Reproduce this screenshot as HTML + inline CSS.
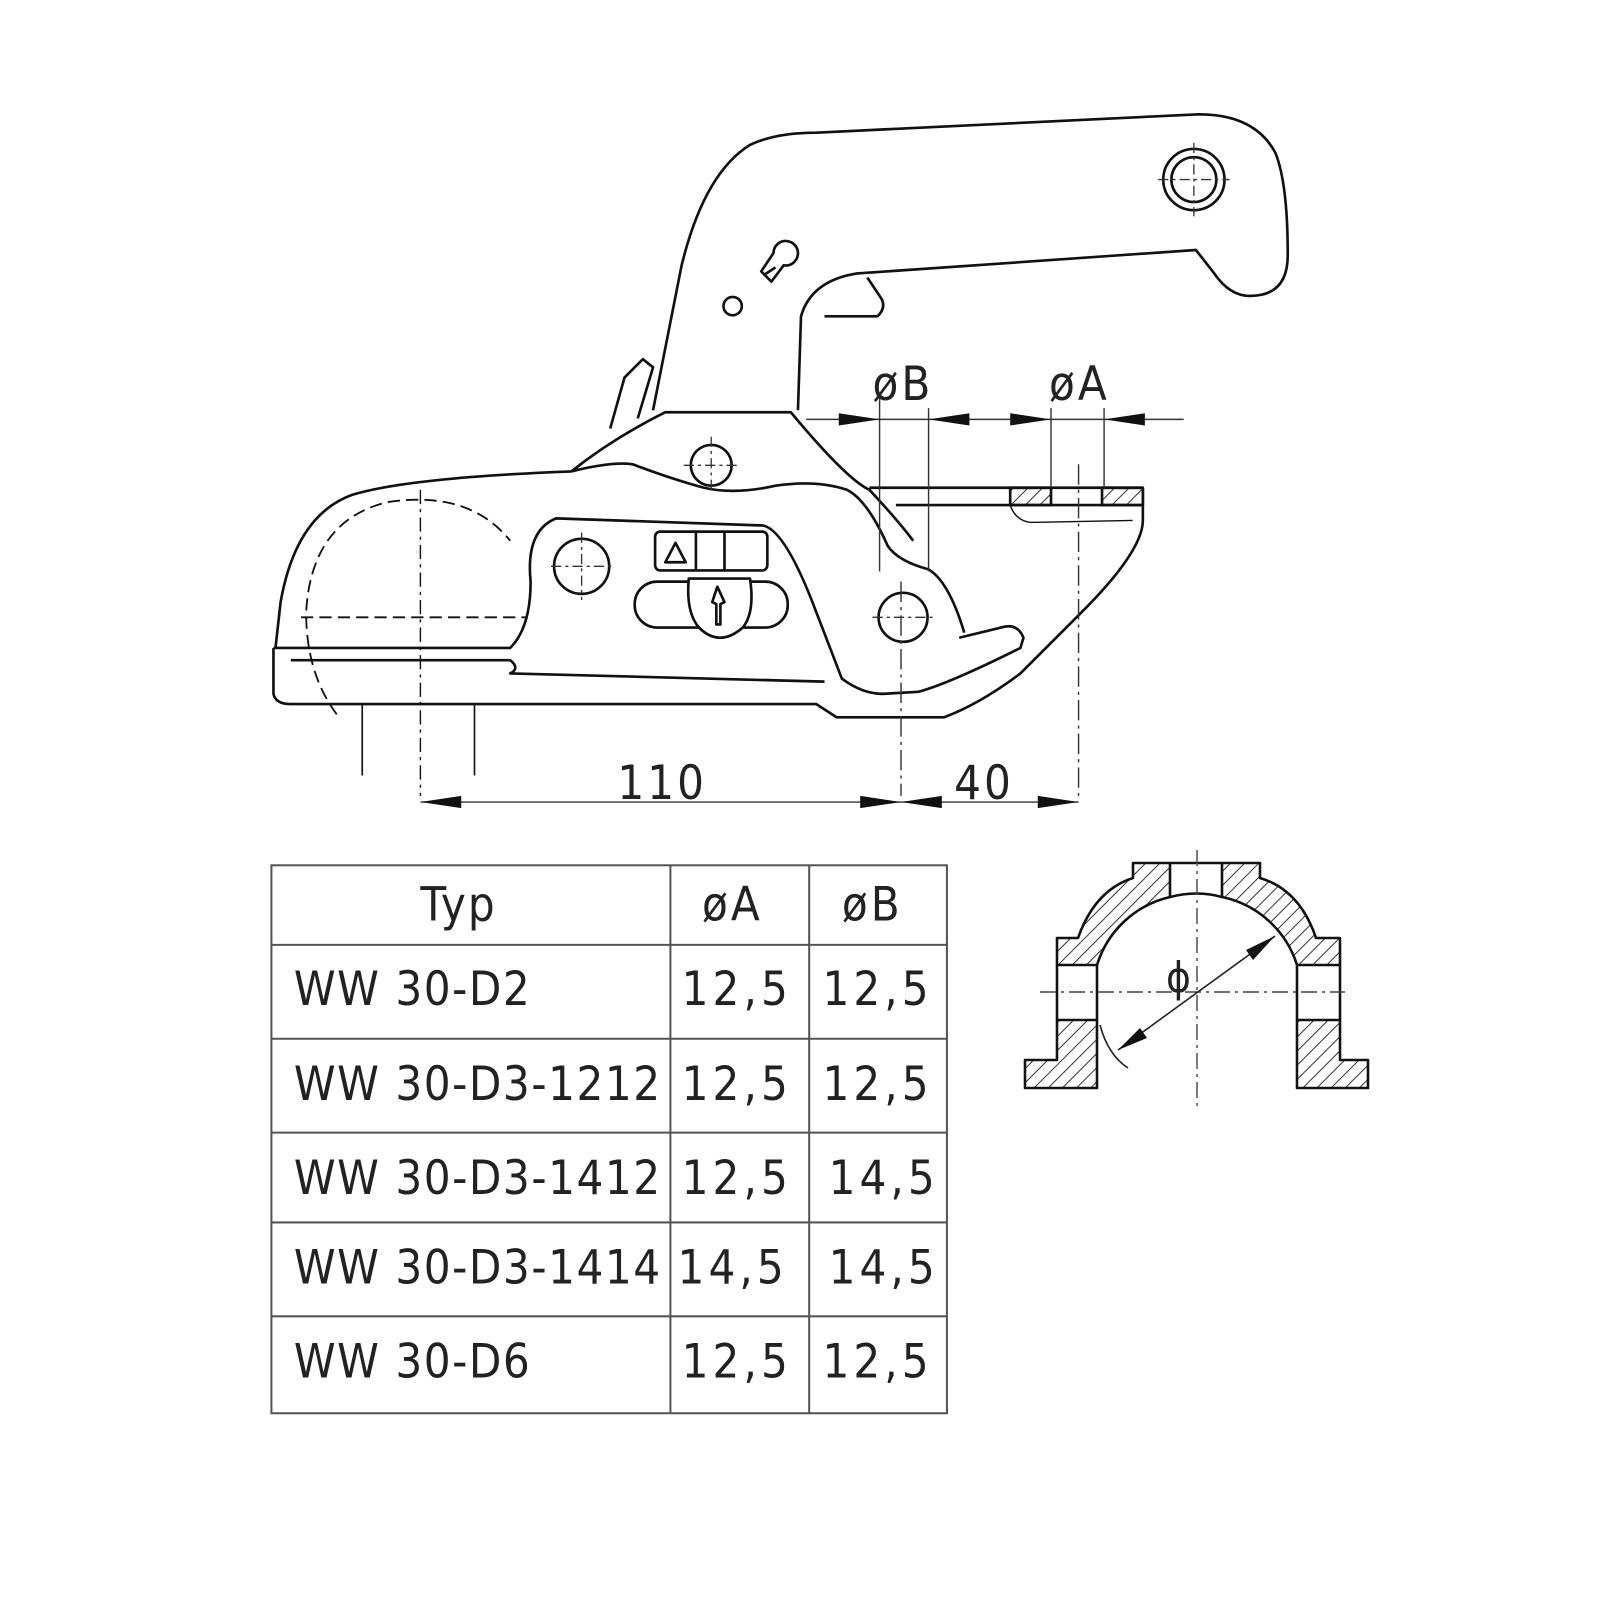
<!DOCTYPE html>
<html><head><meta charset="utf-8"><style>
html,body{margin:0;padding:0;background:#fff}
svg{display:block}
text{font-family:"DejaVu Sans Condensed","Liberation Sans",sans-serif;fill:#222}
</style></head><body>
<svg width="1600" height="1600" viewBox="0 0 1600 1600" xmlns="http://www.w3.org/2000/svg">
<defs>
<pattern id="h" width="10" height="10" patternUnits="userSpaceOnUse" patternTransform="rotate(45)">
<line x1="0" y1="0" x2="0" y2="10" stroke="#333" stroke-width="2"/></pattern>
</defs>
<g transform="scale(1.0204)">
<g fill="none" stroke="#111" stroke-width="2.6" stroke-linejoin="round">
<!-- handle -->
<path d="M640,402 L668,260 Q690,170 735,142 Q760,130 800,130 L1175,112 Q1230,112 1250,150 Q1262,180 1262,250 Q1262,290 1225,290 Q1205,290 1190,268 L1172,245 L840,268 Q795,275 785,310 L782,402"/>
<path d="M598,420 L612,370 L630,352 L640,360 L625,410"/>
<path d="M808,310 L860,310 Q870,300 862,290 L850,272"/>
<circle cx="1170" cy="176" r="30"/><circle cx="1170" cy="176" r="22"/>
<path d="M760,262 L748,270 M758,248 a12,12 0 1,1 10,12 L756,276 L746,266 Z"/>
<circle cx="718" cy="300" r="9"/>
<!-- upper body -->
<path d="M560,462 Q600,430 652,404 L775,404 Q830,470 852,480 Q880,510 895,530"/>
<path d="M560,462 Q600,452 620,455 Q660,470 690,478 Q720,485 760,476 Q800,470 830,480 Q850,490 870,535 Q880,550 910,558 Q930,570 945,620"/>
<circle cx="697" cy="456" r="20"/>
<!-- housing -->
<path d="M270,635 L275,590 Q290,505 345,485 Q400,468 560,462"/>
<path d="M268,635 L268,680 Q270,690 285,690 L800,690 L820,703 L925,703 Q960,690 1000,660 L1060,600 Q1120,540 1120,510 L1120,478"/>
<path d="M268,635 L500,635 Q520,615 520,570 Q515,520 545,508 L748,515 Q770,520 800,600 L825,665 Q845,680 865,680 L900,678 Q930,670 1000,635 L1003,625 Q998,612 985,614 L940,625"/>
<path d="M285,647 L500,647 Q510,655 500,660 L808,668"/>
<circle cx="570" cy="555" r="27"/><circle cx="885" cy="605" r="24"/>
<rect x="642" y="521" width="110" height="38" rx="5"/>
<line x1="682" y1="521" x2="682" y2="559"/><line x1="710" y1="521" x2="710" y2="559"/>
<path d="M652,551 L662,532 L672,551 Z"/>
<rect x="622" y="570" width="150" height="45" rx="22"/>
<path d="M675,567 L735,567 Q740,600 728,615 Q705,635 685,615 Q672,600 675,567 Z" fill="#fff"/>
<path d="M703,575 L698,590 L702,592 L702,612 L706,612 L706,592 L710,590 Z"/>
<!-- tube -->
<path d="M852,478 L1120,478 M878,495 L1120,495"/>
<rect x="990" y="478" width="40" height="17" fill="url(#h)"/>
<rect x="1080" y="478" width="40" height="17" fill="url(#h)"/>
<path d="M990,495 Q995,510 1010,512 L1110,510" stroke-width="1.4"/>
<!-- ball (dashed) -->
<g stroke-dasharray="12 6" stroke-width="1.8">
<path d="M330,700 Q300,660 300,600 Q305,510 380,492 Q460,480 500,530"/>
<line x1="295" y1="605" x2="515" y2="605"/>
</g>
<path d="M355,690 L355,760 M465,690 L465,760" stroke-width="1.6"/>
<path d="M412,480 L412,780" stroke-dasharray="14 5 3 5" stroke-width="1.4"/>
</g>
<!-- crosshairs -->
<g stroke="#333" stroke-width="1.3" stroke-dasharray="10 4 3 4">
<line x1="1135" y1="176" x2="1205" y2="176"/><line x1="1170" y1="140" x2="1170" y2="212"/>
<line x1="670" y1="456" x2="724" y2="456"/><line x1="697" y1="428" x2="697" y2="484"/>
<line x1="540" y1="555" x2="600" y2="555"/><line x1="570" y1="522" x2="570" y2="588"/>
<line x1="855" y1="605" x2="915" y2="605"/>
</g>
<!-- dimension lines -->
<g stroke="#333" stroke-width="1.4" fill="none">
<line x1="862" y1="385" x2="862" y2="560"/><line x1="910" y1="400" x2="910" y2="560"/>
<line x1="1030" y1="400" x2="1030" y2="478"/><line x1="1082" y1="400" x2="1082" y2="478"/>
<line x1="1057" y1="455" x2="1057" y2="780" stroke-dasharray="20 5 3 5"/>
<line x1="883" y1="570" x2="883" y2="780" stroke-dasharray="20 5 3 5"/>
<line x1="790" y1="411" x2="1160" y2="411"/>
<line x1="412" y1="786" x2="1057" y2="786"/>
</g>
<g fill="#111">
<path d="M862,411 L822,405 L822,417Z"/><path d="M910,411 L950,405 L950,417Z"/>
<path d="M1030,411 L990,405 L990,417Z"/><path d="M1082,411 L1122,405 L1122,417Z"/>
<path d="M412,786 L452,780 L452,792Z"/><path d="M883,786 L843,780 L843,792Z"/>
<path d="M883,786 L923,780 L923,792Z"/><path d="M1057,786 L1017,780 L1017,792Z"/>
</g>
<g font-size="46" letter-spacing="3">
<text x="855" y="392">øB</text><text x="1028" y="392">øA</text>
<text x="605" y="783">110</text><text x="935" y="783">40</text>
</g>
<!-- table -->
<g stroke="#555" stroke-width="2" fill="none">
<rect x="266" y="848" width="662" height="537"/>
<line x1="657" y1="848" x2="657" y2="1385"/><line x1="793" y1="848" x2="793" y2="1385"/>
<line x1="266" y1="926" x2="928" y2="926"/><line x1="266" y1="1018" x2="928" y2="1018"/>
<line x1="266" y1="1110" x2="928" y2="1110"/><line x1="266" y1="1198" x2="928" y2="1198"/>
<line x1="266" y1="1290" x2="928" y2="1290"/>
</g>
<g font-size="46">
<text x="412" y="902" letter-spacing="2">Typ</text><text x="688" y="902" letter-spacing="3">øA</text><text x="825" y="902" letter-spacing="3">øB</text>
<g letter-spacing="1.5">
<text x="288" y="985">WW  30-D2</text>
<text x="288" y="1078">WW  30-D3-1212</text>
<text x="288" y="1170">WW  30-D3-1412</text>
<text x="288" y="1258">WW  30-D3-1414</text>
<text x="288" y="1350">WW  30-D6</text>
</g>
<g letter-spacing="4">
<text x="668" y="985">12,5</text><text x="806" y="985">12,5</text>
<text x="668" y="1078">12,5</text><text x="806" y="1078">12,5</text>
<text x="668" y="1170">12,5</text><text x="812" y="1170">14,5</text>
<text x="664" y="1258">14,5</text><text x="812" y="1258">14,5</text>
<text x="668" y="1350">12,5</text><text x="806" y="1350">12,5</text>
</g>
</g>
</g>
<!-- section view (actual coords) -->
<g stroke="#111" stroke-width="2.6" stroke-linejoin="round">
<path d="M1133,863 L1170,863 L1170,897 A100,100 0 0 0 1097,965 L1057,965 L1057,938 L1078,938 Q1095,890 1133,878 Z" fill="url(#h)"/>
<path d="M1057,1020 L1097,1020 L1097,1088 L1025,1088 L1025,1060 L1057,1060 Z" fill="url(#h)"/>
<path d="M1260,863 L1222,863 L1222,897 A100,100 0 0 1 1297,965 L1340,965 L1340,938 L1316,938 Q1300,890 1260,878 Z" fill="url(#h)"/>
<path d="M1297,1020 L1340,1020 L1340,1060 L1368,1060 L1368,1088 L1297,1088 Z" fill="url(#h)"/>
<path d="M1170,863 L1222,863 M1057,965 L1057,1020 M1097,965 L1097,1020 M1297,965 L1297,1020 M1340,965 L1340,1020" fill="none"/>
<path d="M1170,897 Q1197,890 1222,897" fill="none"/>
</g>
<g stroke="#444" stroke-width="1.4" fill="none" stroke-dasharray="16 5 3 5">
<line x1="1197" y1="850" x2="1197" y2="1110"/><line x1="1040" y1="992" x2="1345" y2="992"/>
</g>
<g stroke="#222" stroke-width="1.6" fill="none">
<line x1="1118" y1="1050" x2="1275" y2="936"/>
<path d="M1100,1025 Q1108,1055 1128,1068"/>
</g>
<path d="M1118,1050 L1140,1028 L1147,1038Z M1275,936 L1246,950 L1253,960Z" fill="#111"/>
<text x="1166" y="992" font-size="42">ϕ</text>
</svg>
</body></html>
